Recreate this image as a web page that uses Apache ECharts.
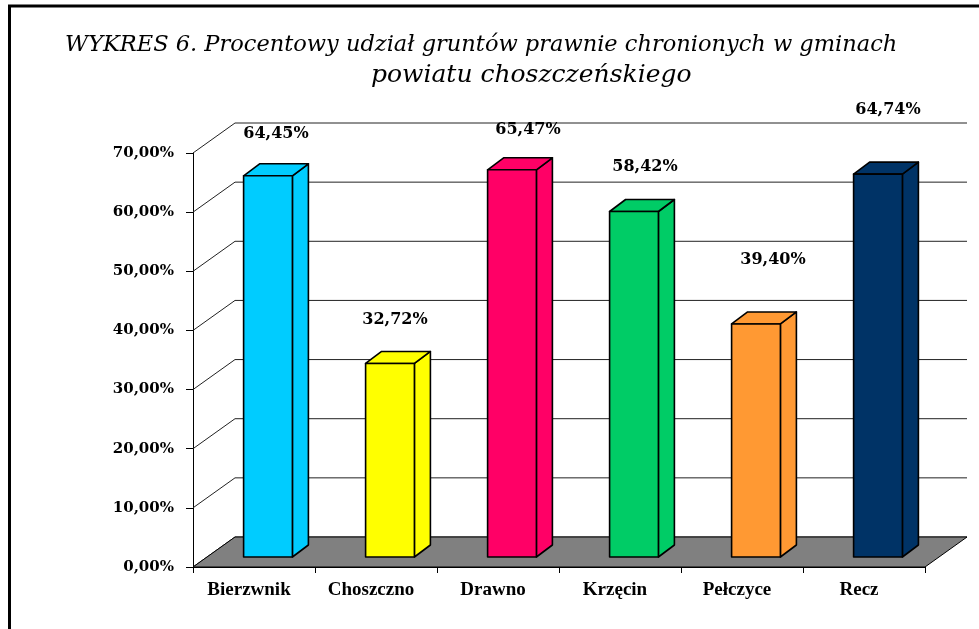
<!DOCTYPE html>
<html>
<head>
<meta charset="utf-8">
<title>Wykres 6</title>
<script src="https://cdn.jsdelivr.net/npm/echarts@6/dist/echarts.min.js"></script>
<style>
  html, body { margin: 0; padding: 0; background: #fff; }
  #wykres { width: 979px; height: 629px; }
</style>
</head>
<body>
<div id="wykres"></div>
<script>
// dane
var gminy = ['Bierzwnik', 'Choszczno', 'Drawno', 'Krzęcin', 'Pełczyce', 'Recz'];
var udzial = [64.45, 32.72, 65.47, 58.42, 39.40, 64.74];
var kolory = ['#00CCFF', '#FFFF00', '#FF0066', '#00CC66', '#FF9933', '#003366'];
var podzialkaY = [0, 10, 20, 30, 40, 50, 60, 70];

var tytul1 = 'WYKRES 6. Procentowy udział gruntów prawnie chronionych w gminach';
var tytul2 = 'powiatu choszczeńskiego';

// pseudo-3D (piksele)
var GLEB_X = 42, GLEB_Y = -30;     // podloga i sciana tylna
var PRZOD_X = 14, PRZOD_Y = -10;   // przod slupka wzgledem osi
var SLUP_X = 16, SLUP_Y = -12;     // glebokosc slupka
// etykiety przesuniete recznie jak w oryginale
var przesunEtykiet = [[8, -42], [5, -44], [16, -40], [11, -45], [17, -64], [10, -64]];

function procent(v) {
  return v.toFixed(2).replace('.', ',') + '%';
}

var wykres = echarts.init(document.getElementById('wykres'));

wykres.setOption({
  animation: false,
  backgroundColor: '#fff',
  title: [{
    text: tytul1,
    left: 60, top: 29,
    textStyle: { fontFamily: 'DejaVu Serif', fontStyle: 'italic', fontWeight: 'normal', fontSize: 22.5, color: '#000' }
  }, {
    text: tytul2,
    left: 366, top: 58,
    textStyle: { fontFamily: 'DejaVu Serif', fontStyle: 'italic', fontWeight: 'normal', fontSize: 25, color: '#000' }
  }],
  graphic: [{
    type: 'rect', z: -1,
    shape: { x: 9.5, y: 6, width: 1200, height: 1000 },
    style: { fill: 'none', stroke: '#000', lineWidth: 3 }
  }],
  grid: { left: 193, right: 54, top: 153, bottom: 62 },
  xAxis: {
    type: 'category',
    data: gminy,
    axisLine: { show: true, lineStyle: { color: '#000', width: 1 } },
    axisTick: { show: true, length: 6, lineStyle: { color: '#000' } },
    axisLabel: {
      fontFamily: 'Liberation Serif', fontWeight: 'bold', fontSize: 19, color: '#000',
      margin: 14, padding: [0, 10, 0, 0]
    },
    splitLine: { show: false }
  },
  yAxis: {
    type: 'value',
    min: 0, max: 70, interval: 10,
    axisLine: { show: true, lineStyle: { color: '#000', width: 1 } },
    axisTick: { show: true, length: 7, lineStyle: { color: '#000' } },
    axisLabel: {
      formatter: procent,
      fontFamily: 'DejaVu Serif', fontWeight: 'bold', fontSize: 15, color: '#000', margin: 19
    },
    splitLine: { show: false }
  },
  series: [{
    // linie siatki na scianie bocznej i tylnej
    type: 'custom', name: 'siatka', z: 1, clip: false, silent: true,
    data: podzialkaY.map(function (v) { return [0, v]; }),
    renderItem: function (params, api) {
      var cs = params.coordSys;
      var y = api.coord([0, api.value(1)])[1];
      var x0 = cs.x, x1 = cs.x + cs.width;
      var st = { stroke: '#222', lineWidth: 1 };
      return {
        type: 'group',
        children: [
          { type: 'line', shape: { x1: x0, y1: y, x2: x0 + GLEB_X, y2: y + GLEB_Y }, style: st },
          { type: 'line', shape: { x1: x0 + GLEB_X, y1: y + GLEB_Y, x2: x1 + GLEB_X, y2: y + GLEB_Y }, style: st }
        ]
      };
    }
  }, {
    // podloga
    type: 'custom', name: 'podloga', z: 2, clip: false, silent: true,
    data: [[0, 0]],
    renderItem: function (params, api) {
      var cs = params.coordSys;
      var y0 = api.coord([0, 0])[1];
      var x0 = cs.x, x1 = cs.x + cs.width;
      return {
        type: 'polygon',
        shape: { points: [[x0, y0], [x1, y0], [x1 + GLEB_X, y0 + GLEB_Y], [x0 + GLEB_X, y0 + GLEB_Y]] },
        style: { fill: '#808080', stroke: '#000', lineWidth: 1 }
      };
    }
  }, {
    // slupki
    type: 'custom', name: 'udzial', z: 3, clip: false,
    data: udzial.map(function (v, i) { return [i, v]; }),
    renderItem: function (params, api) {
      var i = api.value(0), v = api.value(1);
      var baza = api.coord([i, 0]);
      var szczyt = api.coord([i, v]);
      var w = api.size([1, 0])[0] * 0.4;
      var xl = baza[0] - w / 2 + PRZOD_X, xr = xl + w;
      var yb = baza[1] + PRZOD_Y, yt = szczyt[1] + PRZOD_Y;
      function styl() {
        return { fill: kolory[i], stroke: '#000', lineWidth: 1.6, lineJoin: 'round' };
      }
      var n = przesunEtykiet[i];
      return {
        type: 'group',
        children: [
          { type: 'polygon', shape: { points: [[xr, yb], [xr + SLUP_X, yb + SLUP_Y], [xr + SLUP_X, yt + SLUP_Y], [xr, yt]] }, style: styl() },
          { type: 'polygon', shape: { points: [[xl, yt], [xr, yt], [xr + SLUP_X, yt + SLUP_Y], [xl + SLUP_X, yt + SLUP_Y]] }, style: styl() },
          { type: 'rect', shape: { x: xl, y: yt, width: w, height: yb - yt }, style: styl() },
          {
            type: 'text', x: (xl + xr) / 2 + n[0], y: yt + n[1],
            style: {
              text: procent(v), fill: '#000',
              fontFamily: 'DejaVu Serif', fontSize: 16, fontWeight: 'bold',
              align: 'center', verticalAlign: 'middle'
            }
          }
        ]
      };
    }
  }]
});
</script>
</body>
</html>
